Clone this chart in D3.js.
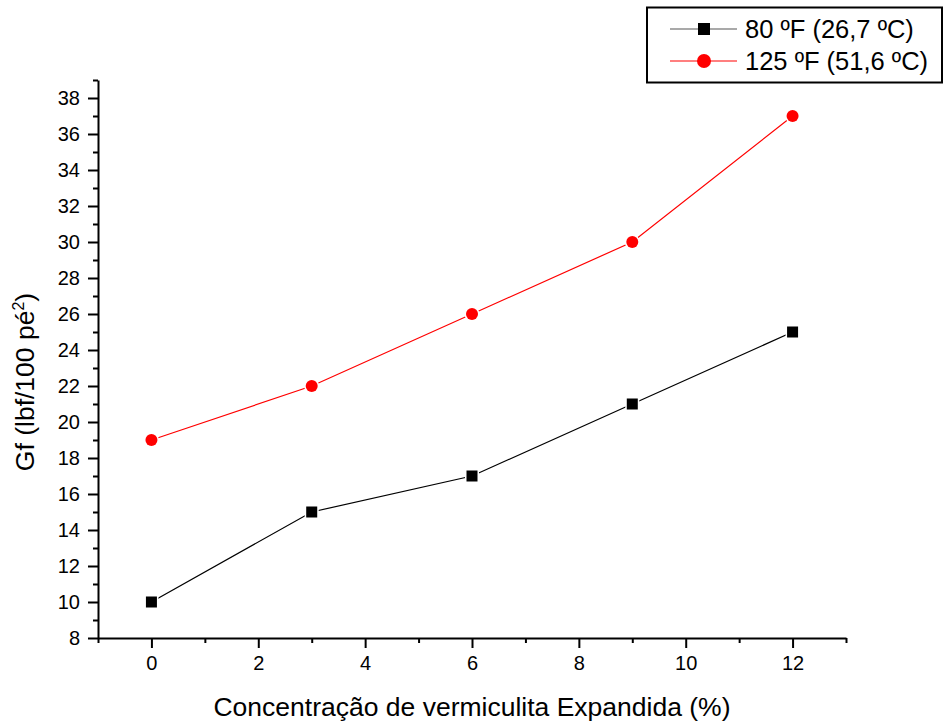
<!DOCTYPE html>
<html>
<head>
<meta charset="utf-8">
<script src="https://cdn.jsdelivr.net/npm/d3@7"></script>
<style>
	body { margin: 0; background: #fff; }
	svg { display: block; font-family: 'Liberation Sans', Arial, sans-serif; }
</style>
</head>
<body>
<svg id="chart" width="947" height="721"></svg>
<script>
const concentration = [0, 3, 6, 9, 12];
const gf80 = [10, 15, 17, 21, 25];
const gf125 = [19, 22, 26, 30, 37];
const seriesNames = ['80 ºF (26,7 ºC)', '125 ºF (51,6 ºC)'];
const xTicks = [0, 2, 4, 6, 8, 10, 12];
const yTicks = [8, 10, 12, 14, 16, 18, 20, 22, 24, 26, 28, 30, 32, 34, 36, 38];

const svg = d3.select('#chart');

const marginLeft = 98;
const marginRight = 101;
const marginTop = 80;
const marginBottom = 83;
const width = 947;
const height = 721;

const x = d3.scaleLinear().domain([-1, 13]).range([marginLeft, width - marginRight]);
const y = d3.scaleLinear().domain([8, 39]).range([height - marginBottom, marginTop]);

const series = [
	{ name: seriesNames[0], values: gf80, color: '#000', shape: 'square' },
	{ name: seriesNames[1], values: gf125, color: '#ff0000', shape: 'circle' },
];

// axes
svg.append('g')
	.attr('transform', `translate(0,${height - marginBottom})`)
	.call(d3.axisBottom(x).tickValues(xTicks).tickSize(10).tickPadding(8).tickSizeOuter(0));
svg.append('g')
	.attr('transform', `translate(0,${height - marginBottom})`)
	.call(d3.axisBottom(x).tickValues(d3.range(-1, 14, 2)).tickSize(5).tickFormat('').tickSizeOuter(0))
	.call((g) => g.select('.domain').remove());

svg.append('g')
	.attr('transform', `translate(${marginLeft},0)`)
	.call(d3.axisLeft(y).tickValues(yTicks).tickSize(10).tickPadding(8).tickSizeOuter(0));
svg.append('g')
	.attr('transform', `translate(${marginLeft},0)`)
	.call(d3.axisLeft(y).tickValues(d3.range(9, 40, 2)).tickSize(5).tickFormat('').tickSizeOuter(0))
	.call((g) => g.select('.domain').remove());

svg.selectAll('.domain').attr('stroke', '#000').attr('stroke-width', 2);
svg.selectAll('.tick line').attr('stroke', '#000').attr('stroke-width', 2);
svg.selectAll('.tick text')
	.attr('font-family', "'Liberation Sans', Arial, sans-serif")
	.attr('font-size', 20)
	.attr('fill', '#000');

// axis titles
svg.append('text')
	.attr('x', x(6))
	.attr('y', 716)
	.attr('text-anchor', 'middle')
	.attr('font-size', 26.5)
	.text('Concentração de vermiculita Expandida (%)');

const yTitle = svg.append('text')
	.attr('transform', 'translate(34,382) rotate(-90)')
	.attr('text-anchor', 'middle')
	.attr('font-size', 26.5);
yTitle.append('tspan').text('Gf (lbf/100 pé');
yTitle.append('tspan').attr('dy', -10).attr('font-size', 16).text('2');
yTitle.append('tspan').attr('dy', 10).text(')');

// lines and markers
const line = d3.line()
	.x((d, i) => x(concentration[i]))
	.y((d) => y(d));

function drawMarker(g, shape, color, cx, cy) {
	if (shape === 'square') {
		g.append('rect')
			.attr('x', cx - 5.5).attr('y', cy - 5.5)
			.attr('width', 11).attr('height', 11)
			.attr('fill', color)
			.attr('stroke', '#fff').attr('stroke-width', 3)
			.attr('paint-order', 'stroke');
	} else {
		g.append('circle')
			.attr('cx', cx).attr('cy', cy).attr('r', 6)
			.attr('fill', color)
			.attr('stroke', '#fff').attr('stroke-width', 3)
			.attr('paint-order', 'stroke');
	}
}

series.forEach((s) => {
	svg.append('path')
		.datum(s.values)
		.attr('fill', 'none')
		.attr('stroke', s.color)
		.attr('stroke-width', 1.2)
		.attr('d', line);
	const g = svg.append('g');
	s.values.forEach((v, i) => drawMarker(g, s.shape, s.color, x(concentration[i]), y(v)));
});

// legend
const legend = svg.append('g');
legend.append('rect')
	.attr('x', 647).attr('y', 7.5)
	.attr('width', 295).attr('height', 75)
	.attr('fill', '#fff')
	.attr('stroke', '#000').attr('stroke-width', 2);

series.forEach((s, i) => {
	const ly = 29 + i * 32;
	legend.append('line')
		.attr('x1', 670).attr('x2', 737)
		.attr('y1', ly).attr('y2', ly)
		.attr('stroke', s.color === '#000' ? '#555' : s.color)
		.attr('stroke-width', 1.2);
	const g = legend.append('g');
	if (s.shape === 'square') {
		g.append('rect').attr('x', 698).attr('y', ly - 6).attr('width', 12).attr('height', 12).attr('fill', s.color);
	} else {
		g.append('circle').attr('cx', 704).attr('cy', ly).attr('r', 7).attr('fill', s.color);
	}
	legend.append('text')
		.attr('x', 745)
		.attr('y', ly)
		.attr('dy', '0.35em')
		.attr('font-size', 25.5)
		.text(s.name);
});
</script>
</body>
</html>
